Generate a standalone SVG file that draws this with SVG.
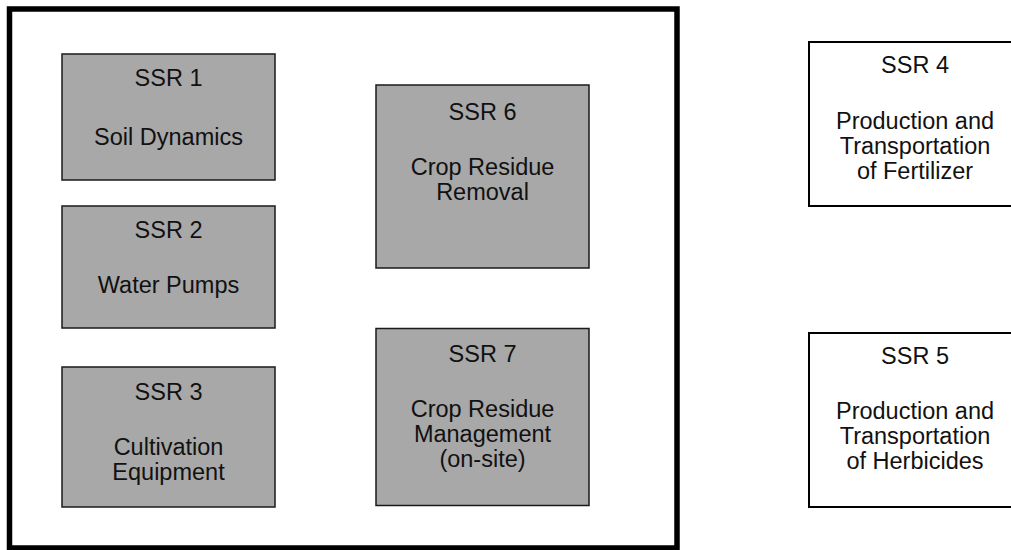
<svg xmlns="http://www.w3.org/2000/svg" width="1011" height="550" viewBox="0 0 1011 550">
<style>
.frame{fill:#fff;stroke:#000;stroke-width:5.5}
.g{fill:#a8a8a8;stroke:#1a1a1a;stroke-width:1.5}
.w{fill:#fff;stroke:#000;stroke-width:2}
text{font-family:"Liberation Sans",Arial,sans-serif;font-size:23.5px;fill:#111;text-anchor:middle}
</style>
<rect width="1011" height="550" fill="#fff"/>
<g id="boundary"><rect class="frame" x="9.5" y="9" width="667.5" height="539"/></g>
<g id="connectors"></g>
<g id="ssr1"><rect class="g" x="62" y="54" width="213" height="126"/>
<text x="168.5" y="86">SSR 1</text><text x="168.5" y="145">Soil Dynamics</text></g>
<g id="ssr2"><rect class="g" x="62" y="206" width="213" height="122"/>
<text x="168.5" y="238">SSR 2</text><text x="168.5" y="293">Water Pumps</text></g>
<g id="ssr3"><rect class="g" x="62" y="367" width="213" height="140"/>
<text x="168.5" y="400">SSR 3</text><text x="168.5" y="455">Cultivation</text><text x="168.5" y="480">Equipment</text></g>
<g id="ssr6"><rect class="g" x="376" y="85" width="213" height="183"/>
<text x="482.5" y="120">SSR 6</text><text x="482.5" y="175">Crop Residue</text><text x="482.5" y="200">Removal</text></g>
<g id="ssr7"><rect class="g" x="376" y="328.5" width="213" height="177"/>
<text x="482.5" y="362">SSR 7</text><text x="482.5" y="417">Crop Residue</text><text x="482.5" y="442">Management</text><text x="482.5" y="467">(on-site)</text></g>
<g id="ssr4"><rect class="w" x="809" y="42" width="213" height="164"/>
<text x="915" y="73">SSR 4</text><text x="915" y="129">Production and</text><text x="915" y="154">Transportation</text><text x="915" y="179">of Fertilizer</text></g>
<g id="ssr5"><rect class="w" x="809" y="333" width="213" height="174"/>
<text x="915" y="364">SSR 5</text><text x="915" y="419">Production and</text><text x="915" y="444">Transportation</text><text x="915" y="469">of Herbicides</text></g>
</svg>
